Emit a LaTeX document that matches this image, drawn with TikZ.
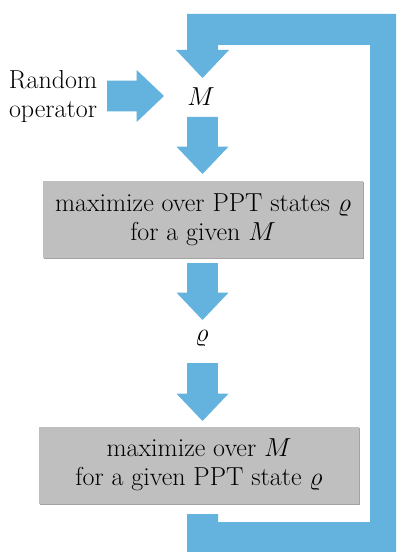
\RequirePackage{fix-cm}
\documentclass[tikz,border=0pt]{standalone}
\usepackage{amssymb,amsmath}
\usetikzlibrary{calc,shadows}

\definecolor{flowblue}{RGB}{100,178,222}
\tikzset{
  flow/.style={fill=flowblue},
  txt/.style={font=\fontsize{19.5}{21.75}\selectfont, align=center, inner sep=0pt},
  stage/.style={txt, fill=black!25, minimum width=240pt, minimum height=57.75pt,
    drop shadow={shadow xshift=0.6pt, shadow yshift=-0.9pt, opacity=0.6, fill=black!60}}
}
% block arrow from #1 to the tip #2
\newcommand{\blockarr}[2]{%
  \coordinate (hb) at ($(#2)!20.5pt!(#1)$);
  \fill[flow] ($(#1)!11.5pt!90:(#2)$) -- ($(hb)!11.5pt!90:(#2)$) -- ($(hb)!19.5pt!90:(#2)$)
    -- (#2) -- ($(hb)!19.5pt!-90:(#2)$) -- ($(hb)!11.5pt!-90:(#2)$) -- ($(#1)!11.5pt!-90:(#2)$) -- cycle;
}

\begin{document}
\begin{tikzpicture}[x=0.75pt,y=-0.75pt]
  \useasboundingbox (0,0) rectangle (396,552);

  % feedback loop
  \fill[flow] (187,514) -- (218,514) -- (218,522) -- (370,522) -- (370,45) -- (218,45)
    -- (218,50) -- (229,50) -- (202.5,78) -- (176,50) -- (187,50) -- (187,14)
    -- (396,14) -- (396,552) -- (187,552) -- cycle;

  \node[txt] (rand) at (53,97) {Random\\operator};
  \node[txt] (M) at (201,97) {$M$};
  \node[stage] (maxrho) at (203,219.5) {maximize over PPT states $\varrho$\\for a given $M$};
  \node[txt] (rho) at (202,338) {$\varrho$};
  \node[stage] (maxM) at (199,465) {maximize over $M$\\for a given PPT state $\varrho$};

  \coordinate (r0) at (107,96);  \coordinate (r1) at (164,96);
  \coordinate (a0) at (202.5,117); \coordinate (a1) at (202.5,174);
  \coordinate (b0) at (202.5,263); \coordinate (b1) at (202.5,320);
  \coordinate (c0) at (202.5,363); \coordinate (c1) at (202.5,421);
  \blockarr{r0}{r1}
  \blockarr{a0}{a1}
  \blockarr{b0}{b1}
  \blockarr{c0}{c1}
\end{tikzpicture}
\end{document}
